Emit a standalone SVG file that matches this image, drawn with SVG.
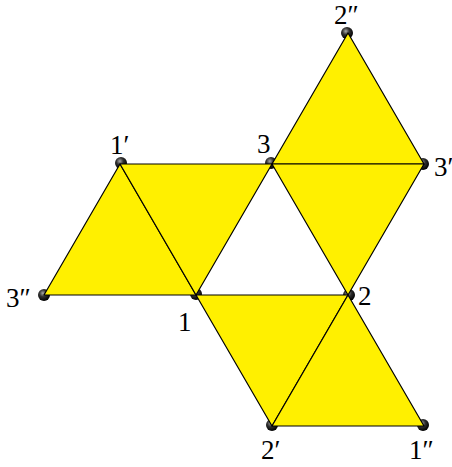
<svg xmlns="http://www.w3.org/2000/svg" width="452" height="467" viewBox="0 0 452 467">
<defs>
<radialGradient id="ball" cx="0.4" cy="0.35" r="0.65">
<stop offset="0" stop-color="#a8a8a8"/>
<stop offset="0.45" stop-color="#303030"/>
<stop offset="1" stop-color="#000"/>
</radialGradient>
</defs>
<style>
.dot{fill:url(#ball)}
.tri{fill:#FFF000;stroke:#000;stroke-width:1.2;stroke-linejoin:round}
text{font-family:"Liberation Serif","DejaVu Serif",serif;font-size:27px;fill:#000}
</style>
<rect width="452" height="467" fill="#fff"/>
<g id="dots">
<circle class="dot" cx="121" cy="163" r="6"/>
<circle class="dot" cx="347" cy="33" r="6"/>
<circle class="dot" cx="271" cy="163" r="6"/>
<circle class="dot" cx="423" cy="164" r="6"/>
<circle class="dot" cx="44" cy="295" r="6"/>
<circle class="dot" cx="196" cy="294" r="6"/>
<circle class="dot" cx="349" cy="295" r="6"/>
<circle class="dot" cx="272" cy="425" r="6"/>
<circle class="dot" cx="423" cy="425" r="6"/>
</g>
<g id="connectors">
<polygon class="tri" points="120,164 44,295 196,295"/>
<polygon class="tri" points="120,164 272,164 196,295"/>
<polygon class="tri" points="272,164 348,33 424,164"/>
<polygon class="tri" points="272,164 424,164 348,295"/>
<polygon class="tri" points="196,295 348,295 272,426"/>
<polygon class="tri" points="348,295 272,426 424,426"/>
</g>
<g id="n1p"><text x="110" y="154">1′</text></g>
<g id="n2pp"><text x="334" y="24">2″</text></g>
<g id="n3"><text x="257" y="153">3</text></g>
<g id="n3p"><text x="434" y="176">3′</text></g>
<g id="n3pp"><text x="6" y="307">3″</text></g>
<g id="n1"><text x="178" y="331">1</text></g>
<g id="n2"><text x="358" y="305">2</text></g>
<g id="n2p"><text x="261" y="459">2′</text></g>
<g id="n1pp"><text x="409" y="459">1″</text></g>
</svg>
